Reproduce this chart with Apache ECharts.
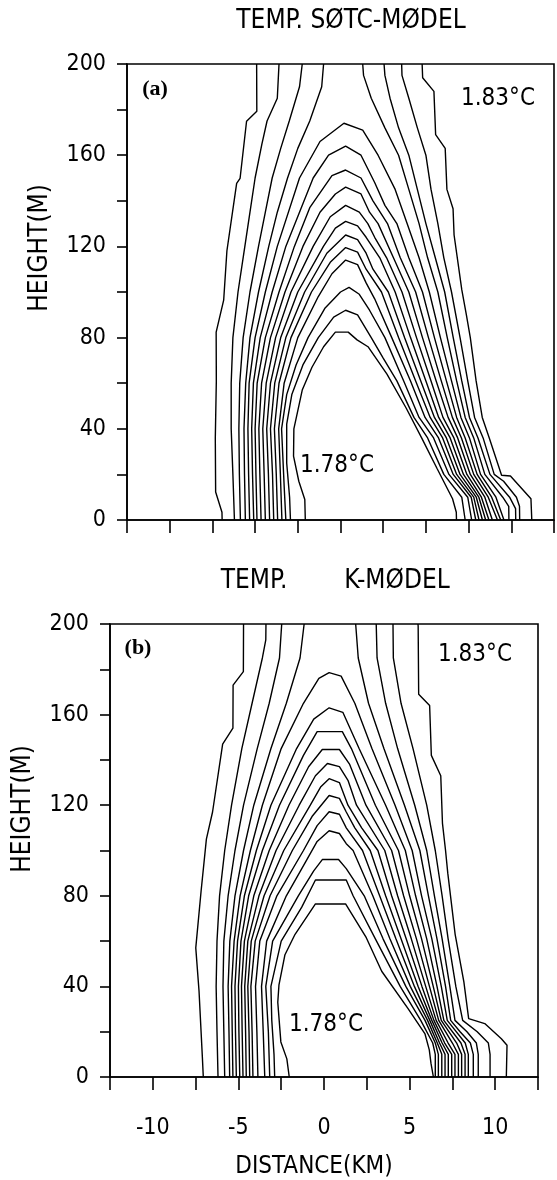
<!DOCTYPE html>
<html><head><meta charset="utf-8">
<script src="https://cdn.jsdelivr.net/npm/echarts@6/dist/echarts.min.js"></script>
<style>html,body{margin:0;padding:0;background:#fff}#c{width:557px;height:1180px}</style>
</head><body><div id="c"></div>
<script>
// ---- axes ----
const xRange = [-12.5, 12.5];
const xStep = 2.5;
const xLabelValues = [-10, -5, 0, 5, 10];
const yRange = [0, 200];
const yStep = 20;
const yLabelValues = [0, 40, 80, 120, 160, 200];

// ---- texts ----
const titleA = 'TEMP. SØTC-MØDEL';
const titleB1 = 'TEMP.';
const titleB2 = 'K-MØDEL';
const yName = 'HEIGHT(M)';
const xName = 'DISTANCE(KM)';
const warmLabel = '1.83°C';
const coldLabel = '1.78°C';

// ---- panel (a) SØTC-model isotherms: [distance km, height m] ----
const a01 = [[-6.93,0],[-6.94,3.4],[-7.31,12.3],[-7.33,35.9],[-7.27,61],[-7.28,82.4],[-6.84,96.4],[-6.65,118.1],[-6.08,147.6],[-5.88,149.8],[-5.50,174.9],[-4.90,179.3],[-4.91,200]];
const a02 = [[-6.21,0],[-6.3,20],[-6.4,40],[-6.4,60],[-6.3,80],[-6.0,100],[-5.6,120],[-5.3,135],[-5.0,150],[-4.6,165],[-4.3,175],[-3.7,185],[-3.6,200]];
const a03 = [[-5.86,0],[-5.92,20],[-5.95,40],[-5.9,60],[-5.7,80],[-5.3,100],[-4.8,120],[-4.4,135],[-4.0,150],[-3.5,163],[-3.0,175],[-2.4,190],[-2.24,200]];
const a04 = [[-5.57,0],[-5.62,20],[-5.65,40],[-5.55,60],[-5.3,80],[-4.8,100],[-4.2,120],[-3.7,135],[-3.1,150],[-2.5,163],[-1.8,175],[-1.1,190],[-0.99,200]];
const a05 = [[-5.32,0],[-5.38,20],[-5.42,40],[-5.35,60],[-5.0,80],[-4.4,100],[-3.7,120],[-2.4,150],[-1.2,166],[0.2,174],[1.3,171],[2.2,160],[3.2,145],[3.9,130],[4.6,115],[5.2,100],[5.85,80],[6.5,61],[7.05,45],[7.55,36],[8.2,20],[9.1,10],[9.57,0]];
const a06 = [[-5.08,0],[-5.15,20],[-5.2,40],[-5.1,60],[-4.7,80],[-4.0,100],[-3.2,120],[-2.4,135],[-1.6,150],[-0.7,160],[0.3,164],[1.2,160],[2.0,148],[2.6,138],[3.3,130],[4.0,115],[4.8,100],[5.5,80],[6.2,61],[6.8,45],[7.3,36],[8.0,20],[8.85,10],[9.38,0]];
const a07 = [[-4.89,0],[-4.95,20],[-5.0,40],[-4.88,60],[-4.4,80],[-3.6,100],[-2.7,120],[-1.8,137],[-0.5,151],[0.3,153.5],[1.2,150],[1.9,140],[2.75,130],[3.5,115],[4.4,100],[5.15,80],[5.9,61],[6.55,45],[7.08,36],[7.8,20],[8.65,10],[9.19,0]];
const a08 = [[-4.65,0],[-4.72,20],[-4.78,40],[-4.62,60],[-4.1,80],[-3.25,100],[-2.2,120],[-1.2,135],[-0.3,143],[0.3,146],[1.2,143],[1.7,135],[2.2,130],[3.1,115],[4.0,100],[4.8,80],[5.6,61],[6.3,45],[6.86,36],[7.6,20],[8.45,10],[8.89,0]];
const a09 = [[-4.40,0],[-4.47,20],[-4.55,40],[-4.35,60],[-3.8,80],[-2.9,100],[-1.6,120],[-0.6,133],[0.3,138],[1.1,135],[1.6,130],[2.0,124],[2.7,115],[3.6,100],[4.45,80],[5.3,61],[6.0,45],[6.64,36],[7.4,20],[8.25,10],[8.69,0]];
const a10 = [[-4.15,0],[-4.22,20],[-4.32,40],[-4.1,60],[-3.5,80],[-2.5,100],[-1.0,120],[-0.3,128],[0.3,131],[1.0,129],[1.5,124],[2.3,115],[3.2,100],[4.1,80],[5.0,61],[5.75,45],[6.42,36],[7.2,20],[8.1,10],[8.50,0]];
const a11 = [[-3.91,0],[-3.98,20],[-4.1,40],[-3.85,60],[-3.2,80],[-2.1,100],[-0.8,117],[0.3,125],[1.0,123],[1.5,117],[1.9,110],[2.8,100],[3.75,80],[4.7,61],[5.5,45],[6.2,36],[7.0,20],[7.95,10],[8.31,0]];
const a12 = [[-3.68,0],[-3.76,20],[-3.87,40],[-3.6,60],[-2.9,80],[-1.7,100],[-0.6,113],[0.3,119.5],[1.0,117.5],[1.5,110],[2.4,100],[3.4,80],[4.4,61],[5.25,45],[5.98,36],[6.8,20],[7.8,10],[8.11,0]];
const a13 = [[-3.43,0],[-3.52,20],[-3.62,40],[-3.3,60],[-2.5,80],[-1.3,98],[-0.5,108],[0.3,114],[1.0,112],[1.5,104],[2.0,97],[3.0,80],[4.1,61],[4.95,45],[5.74,36],[6.6,20],[7.65,10],[7.92,0]];
const a14 = [[-3.2,0],[-3.3,15],[-3.45,40],[-3.15,55],[-2.6,68],[-1.9,80],[-0.9,93],[0.0,100],[0.5,102],[1.1,99],[1.7,92],[2.6,80],[3.7,61],[4.6,45],[5.45,36],[6.35,20],[7.45,10],[7.68,0]];
const a15 = [[-2.93,0],[-2.98,10],[-3.15,25],[-3.15,42],[-2.85,55],[-2.2,68],[-1.3,80],[-0.4,89],[0.3,92],[1.0,90],[1.8,80],[2.5,71],[3.3,61],[4.3,45],[5.1,36],[6.05,20],[7.1,10],[7.3,0]];
const a16 = [[-2.06,0],[-2.09,9],[-2.44,17],[-2.75,28],[-2.73,40],[-2.24,57],[-1.67,67],[-0.99,76],[-0.3,82.4],[0.45,82.4],[0.97,79],[1.61,76],[2.72,64],[3.85,49],[4.75,36],[5.66,22.5],[6.56,9.3],[6.78,3.4],[6.79,0]];
const a17 = [[11.2,0],[11.15,9.3],[9.95,19.3],[9.43,19.6],[8.71,36],[8.3,45],[7.94,61],[7.6,80],[7.37,90],[7.10,101],[6.65,125],[6.59,136.5],[6.23,145],[6.13,163],[5.57,169],[5.47,188],[4.81,194],[4.78,200]];
const a18 = [[10.49,0],[10.48,6],[10.3,10],[9.55,17],[9.0,20],[8.35,36],[7.85,45],[7.45,61],[7.0,80],[6.5,100],[6.05,115],[5.7,130],[5.3,145],[5.0,160],[4.5,172],[4.0,185],[3.6,195],[3.58,200]];
const a19 = [[10.26,0],[10.25,5],[9.9,10],[8.75,20],[8.05,36],[7.55,45],[7.1,61],[6.6,80],[6.1,100],[5.55,115],[5.0,130],[4.5,145],[4.0,160],[3.4,172],[2.9,185],[2.6,195],[2.55,200]];
const a20 = [[9.86,0],[9.85,6],[9.5,10],[8.45,20],[7.8,36],[7.3,45],[6.8,61],[6.25,80],[5.7,100],[5.1,115],[4.6,130],[4.0,145],[3.4,160],[2.6,172],[1.8,185],[1.35,195],[1.3,200]];
const panelA = [a01,a02,a03,a04,a05,a06,a07,a08,a09,a10,a11,a12,a13,a14,a15,a16,a17,a18,a19,a20];

// ---- panel (b) K-model isotherms ----
const b01 = [[-7.05,0],[-7.1,8],[-7.3,38],[-7.49,57],[-7.18,82],[-6.87,105],[-6.51,117],[-5.92,147],[-5.32,154],[-5.31,173],[-4.71,179],[-4.70,200]];
const b02 = [[-6.19,0],[-6.25,20],[-6.3,40],[-6.25,60],[-6.1,80],[-5.8,100],[-5.4,120],[-4.8,145],[-4.2,165],[-3.6,185],[-3.4,193],[-3.39,200]];
const b03 = [[-5.80,0],[-5.85,20],[-5.9,40],[-5.85,60],[-5.6,80],[-5.2,100],[-4.7,120],[-3.9,145],[-3.2,165],[-2.6,185],[-2.47,200]];
const b04 = [[-5.51,0],[-5.55,20],[-5.6,40],[-5.5,60],[-5.2,80],[-4.7,100],[-4.1,120],[-3.1,145],[-2.2,165],[-1.4,185],[-1.16,200]];
const b05 = [[-5.32,0],[-5.36,20],[-5.4,40],[-5.25,60],[-4.9,80],[-4.3,100],[-3.6,120],[-2.5,145],[-1.2,165],[-0.3,176],[0.3,178.5],[1.0,177],[1.8,165],[2.8,145],[4.15,120],[5.15,100],[5.7,80],[6.3,61],[6.85,40],[7.2,25],[8.25,15],[8.43,10],[8.43,0]];
const b06 = [[-5.12,0],[-5.17,20],[-5.2,40],[-5.05,60],[-4.65,80],[-3.95,100],[-3.1,120],[-1.6,145],[-0.6,158],[0.3,163],[1.1,161],[2.05,145],[3.6,120],[4.75,100],[5.35,80],[6.0,61],[6.6,40],[7.0,25],[8.0,15],[8.24,10],[8.24,0]];
const b07 = [[-4.92,0],[-4.97,20],[-5.0,40],[-4.85,60],[-4.4,80],[-3.6,100],[-2.6,120],[-1.2,142],[-0.4,152.5],[1.07,152.5],[1.6,145],[3.0,120],[4.35,100],[5.0,80],[5.7,61],[6.38,40],[6.85,25],[7.75,15],[8.04,10],[8.04,0]];
const b08 = [[-4.73,0],[-4.78,20],[-4.82,40],[-4.65,60],[-4.1,80],[-3.2,100],[-2.05,120],[-0.9,137],[-0.1,144.6],[0.9,144.6],[1.5,138],[2.45,120],[3.95,100],[4.65,80],[5.4,61],[6.16,40],[6.7,25],[7.5,15],[7.85,10],[7.85,0]];
const b09 = [[-4.54,0],[-4.58,20],[-4.63,40],[-4.45,60],[-3.8,80],[-2.8,100],[-1.45,120],[-0.5,133],[0.2,138.4],[0.9,137],[1.4,131],[1.9,120],[3.55,100],[4.3,80],[5.1,61],[5.94,40],[6.55,25],[7.25,15],[7.65,10],[7.65,0]];
const b10 = [[-4.34,0],[-4.38,20],[-4.45,40],[-4.25,60],[-3.5,80],[-2.35,100],[-0.8,120],[-0.2,128],[0.3,131.7],[0.9,130],[1.4,120],[2.2,110],[3.15,100],[3.95,80],[4.8,61],[5.72,40],[6.42,25],[7.05,15],[7.46,10],[7.46,0]];
const b11 = [[-4.15,0],[-4.2,20],[-4.27,40],[-4.02,60],[-3.15,80],[-1.85,100],[-0.7,115],[0.3,124.3],[0.9,123],[1.3,117],[1.8,110],[2.7,100],[3.6,80],[4.5,61],[5.5,40],[6.3,25],[6.9,15],[7.26,10],[7.26,0]];
const b12 = [[-3.86,0],[-3.92,20],[-4.0,40],[-3.75,60],[-2.75,80],[-1.2,100],[-0.4,111],[0.3,117.1],[0.9,116],[1.3,110],[2.25,100],[3.25,80],[4.2,61],[5.28,40],[6.18,25],[6.75,15],[7.07,10],[7.07,0]];
const b13 = [[-3.46,0],[-3.55,20],[-3.65,40],[-3.35,60],[-2.2,80],[-1.0,96],[-0.4,104],[0.3,108.7],[0.9,107.5],[1.3,103],[1.7,100],[2.85,80],[3.85,61],[5.04,40],[6.05,25],[6.62,15],[6.88,10],[6.88,0]];
const b14 = [[-3.17,0],[-3.25,20],[-3.4,40],[-3.0,60],[-1.5,80],[-0.6,91],[-0.1,96],[0.85,96],[1.3,92],[2.35,80],[3.45,61],[4.78,40],[5.9,25],[6.5,15],[6.68,10],[6.68,0]];
const b15 = [[-2.88,0],[-2.92,10],[-3.05,25],[-3.1,40],[-2.5,60],[-1.3,75],[-0.5,87],[1.3,87],[1.7,80],[3.0,61],[4.45,40],[5.65,25],[6.35,15],[6.5,10],[6.5,0]];
const b16 = [[-2.03,0],[-2.17,8],[-2.52,15.5],[-2.7,33],[-2.63,40.7],[-2.28,54],[-1.69,63],[-0.5,76.4],[1.26,76.4],[2.47,61.5],[3.37,46.7],[4.9,30.3],[5.9,19],[6.15,12],[6.25,6],[6.39,0]];
const b17 = [[10.65,0],[10.69,14],[10.36,16.9],[9.39,23.6],[8.45,25.8],[8.17,42],[7.66,63],[7.23,90],[7.1,100],[6.92,112],[6.82,133],[6.27,142],[6.17,164],[5.53,169],[5.5,199],[5.49,200]];
const b18 = [[9.70,0],[9.70,10],[9.6,15],[8.95,20],[8.1,25],[7.7,40],[7.25,61],[6.9,80],[6.5,100],[6.0,120],[5.2,145],[4.5,165],[4.05,185],[4.03,200]];
const b19 = [[9.01,0],[9.01,10],[8.9,15],[8.35,20],[7.65,25],[7.35,40],[6.9,61],[6.45,80],[6.0,100],[5.3,120],[4.3,145],[3.6,165],[3.1,185],[3.05,200]];
const b20 = [[8.72,0],[8.72,10],[8.55,15],[7.95,20],[7.4,25],[7.1,40],[6.6,61],[6.1,80],[5.6,100],[4.7,120],[3.5,145],[2.6,165],[2.0,185],[1.85,200]];
const panelB = [b01,b02,b03,b04,b05,b06,b07,b08,b09,b10,b11,b12,b13,b14,b15,b16,b17,b18,b19,b20];

const FONT = "'DejaVu Sans Condensed', 'DejaVu Sans', sans-serif";
const chart = echarts.init(document.getElementById('c'), null, {renderer: 'canvas'});

function xAxisDef(gi, showLabels) {
  return {
    type: 'value', gridIndex: gi, min: xRange[0], max: xRange[1], interval: xStep,
    axisLine: {show: true, onZero: false, lineStyle: {color: '#000', width: 1.6}},
    axisTick: {show: true, length: 13, lineStyle: {color: '#000', width: 1.6}},
    splitLine: {show: false},
    axisLabel: {show: showLabels, margin: 40, color: '#000', fontSize: 23, fontFamily: FONT,
      formatter: v => xLabelValues.includes(v) ? String(v) : ''}
  };
}
function yAxisDef(gi) {
  return {
    type: 'value', gridIndex: gi, min: yRange[0], max: yRange[1], interval: yStep,
    axisLine: {show: true, onZero: false, lineStyle: {color: '#000', width: 1.6}},
    axisTick: {show: true, length: 10, lineStyle: {color: '#000', width: 1.6}},
    splitLine: {show: false},
    axisLabel: {margin: 21, color: '#000', fontSize: 23, fontFamily: FONT,
      formatter: v => yLabelValues.includes(v) ? String(v) : ''}
  };
}
const series = [];
panelA.forEach(d => series.push({type: 'line', xAxisIndex: 0, yAxisIndex: 0, data: d,
  showSymbol: false, symbol: 'none', silent: true, lineStyle: {color: '#000', width: 1.4}}));
panelB.forEach(d => series.push({type: 'line', xAxisIndex: 1, yAxisIndex: 1, data: d,
  showSymbol: false, symbol: 'none', silent: true, lineStyle: {color: '#000', width: 1.4}}));

function txt(x, y, s, size, extra) {
  return Object.assign({type: 'text', x: x, y: y, style: {text: s, fill: '#000',
    font: 'normal ' + size + 'px ' + FONT, textAlign: 'center', textVerticalAlign: 'middle'}}, extra || {});
}
const SERIF = 'bold 22px "Liberation Serif", "DejaVu Serif", serif';
const graphics = [
  txt(351, 21, titleA, 26),
  txt(254, 581, titleB1, 26),
  txt(397, 581, titleB2, 26),
  txt(40, 248, yName, 26, {rotation: Math.PI / 2}),
  txt(23, 809, yName, 26, {rotation: Math.PI / 2}),
  txt(314, 1167, xName, 24),
  txt(498, 99, warmLabel, 24),
  txt(475, 655, warmLabel, 24),
  txt(337, 466, coldLabel, 24),
  txt(326, 1025, coldLabel, 24),
  {type: 'text', x: 155, y: 89, style: {text: '(a)', fill: '#000', font: SERIF, textAlign: 'center', textVerticalAlign: 'middle'}},
  {type: 'text', x: 138, y: 648, style: {text: '(b)', fill: '#000', font: SERIF, textAlign: 'center', textVerticalAlign: 'middle'}}
];

chart.setOption({
  animation: false,
  backgroundColor: '#fff',
  grid: [
    {left: 127, top: 64, width: 427, height: 456, show: true, borderColor: '#000', borderWidth: 1.6, backgroundColor: 'transparent'},
    {left: 110, top: 624, width: 428, height: 453, show: true, borderColor: '#000', borderWidth: 1.6, backgroundColor: 'transparent'}
  ],
  xAxis: [xAxisDef(0, false), xAxisDef(1, true)],
  yAxis: [yAxisDef(0), yAxisDef(1)],
  series: series,
  graphic: graphics
});
</script></body></html>
